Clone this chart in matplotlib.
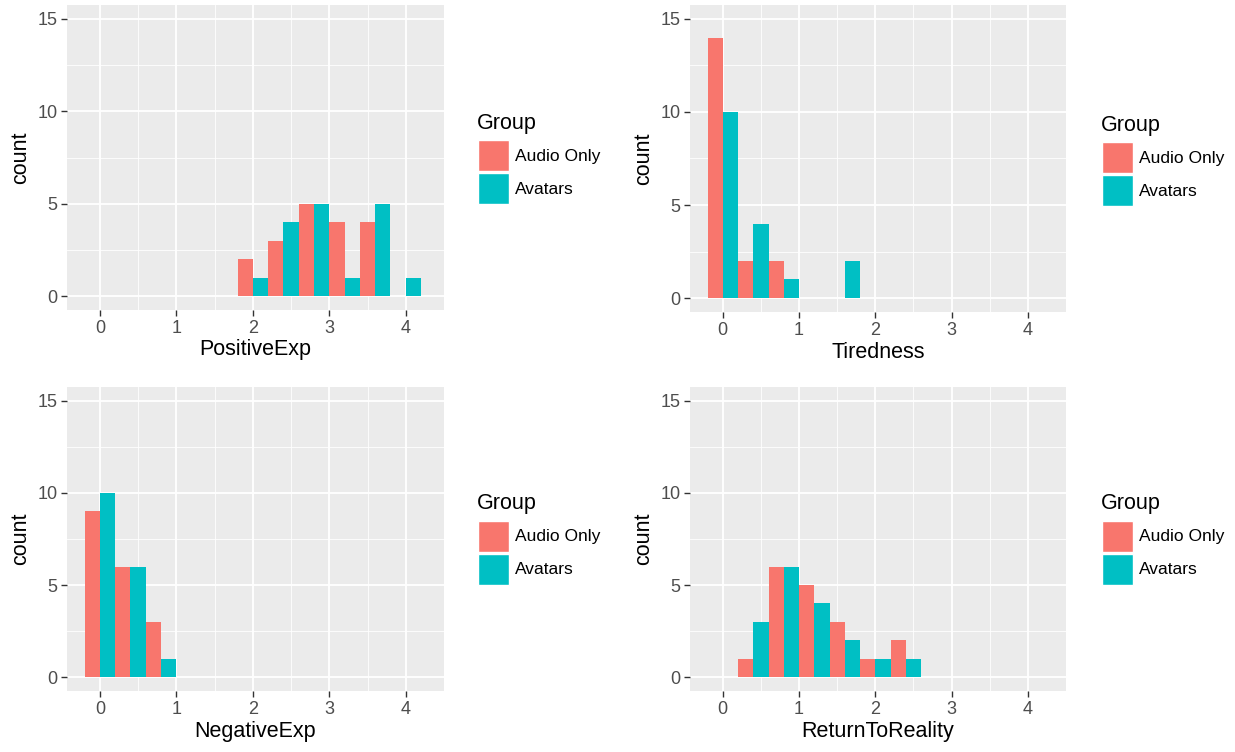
import matplotlib
matplotlib.use("Agg")
import matplotlib.pyplot as plt
import matplotlib.patches as mpatches
import numpy as np

plt.rcParams['font.family'] = ['Liberation Sans', 'DejaVu Sans']

groups = ['Audio Only', 'Avatars']
colors = ['#F8766D', '#00BFC4']
binwidth = 0.4

# bin centres and counts
pos_bins = [2.0, 2.4, 2.8, 3.2, 3.6, 4.0]
pos_audio = [2, 3, 5, 4, 4, 0]
pos_avatar = [1, 4, 5, 1, 5, 1]

tired_bins = [0.0, 0.4, 0.8, 1.2, 1.6]
tired_audio = [14, 2, 2, 0, 0]
tired_avatar = [10, 4, 1, 0, 2]

neg_bins = [0.0, 0.4, 0.8]
neg_audio = [9, 6, 3]
neg_avatar = [10, 6, 1]

ret_bins = [0.4, 0.8, 1.2, 1.6, 2.0, 2.4]
ret_audio = [1, 6, 5, 3, 1, 2]
ret_avatar = [3, 6, 4, 2, 1, 1]

W, H = 1235, 752
fig = plt.figure(figsize=(W / 100, H / 100), dpi=100)
fig.patch.set_facecolor('white')


def px_axes(x0, y0, x1, y1):
    # pixel box (top-left origin) -> figure fraction
    return fig.add_axes([x0 / W, 1 - y1 / H, (x1 - x0) / W, (y1 - y0) / H])


def panel(box, bins, audio, avatar, xlabel, legend_pos):
    ax = px_axes(*box)
    ax.set_facecolor('#EBEBEB')
    bins = np.array(bins)
    half = binwidth / 2
    for vals, col, off in [(audio, colors[0], -half), (avatar, colors[1], 0.0)]:
        ax.bar(bins + off, vals, width=half, align='edge', color=col,
               linewidth=0, zorder=3)
    ax.set_xlim(-0.43, 4.5)
    ax.set_ylim(-0.75, 15.75)
    ax.set_xticks([0, 1, 2, 3, 4])
    ax.set_yticks([0, 5, 10, 15])
    ax.set_xticks([0.5, 1.5, 2.5, 3.5, 4.5], minor=True)
    ax.set_yticks([2.5, 7.5, 12.5], minor=True)
    ax.grid(True, which='major', color='white', linewidth=1.3, zorder=0)
    ax.grid(True, which='minor', color='white', linewidth=0.6, zorder=0)
    ax.set_axisbelow(True)
    for s in ax.spines.values():
        s.set_visible(False)
    ax.tick_params(which='major', length=4, width=1, color='#333333',
                   labelcolor='#4D4D4D', labelsize=13, pad=3)
    ax.tick_params(which='minor', length=0)
    ax.set_xlabel(xlabel, fontsize=15.5, labelpad=2)
    ax.set_ylabel('count', fontsize=15.5, labelpad=4)

    lx, ly = legend_pos
    fig.text(lx / W, 1 - ly / H, 'Group', fontsize=15.5, va='center', ha='left')
    for i, (g, c) in enumerate(zip(groups, colors)):
        ky = ly + 17 + i * 33
        fig.patches.append(mpatches.Rectangle(
            ((lx + 1) / W, 1 - (ky + 31) / H), 31 / W, 31 / H,
            transform=fig.transFigure, facecolor=c, edgecolor='white',
            linewidth=1.0, figure=fig))
        fig.text((lx + 38) / W, 1 - (ky + 16) / H, g, fontsize=12.5,
                 va='center', ha='left')
    return ax


panel((67, 5, 444, 310), pos_bins, pos_audio, pos_avatar, 'PositiveExp', (477, 123))
panel((690, 5, 1066, 312), tired_bins, tired_audio, tired_avatar, 'Tiredness', (1101, 125))
panel((67, 387, 444, 691), neg_bins, neg_audio, neg_avatar, 'NegativeExp', (477, 504))
panel((690, 387, 1066, 691), ret_bins, ret_audio, ret_avatar, 'ReturnToReality', (1101, 504))

fig.savefig('out.png', dpi=100)
